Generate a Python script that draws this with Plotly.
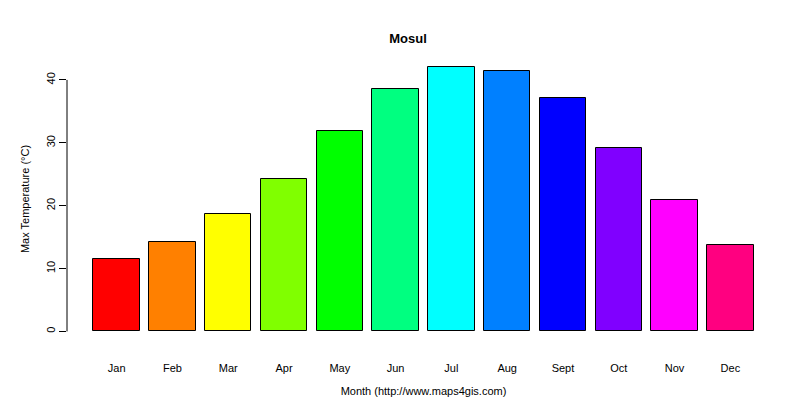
import plotly.graph_objects as go

months = ["Jan", "Feb", "Mar", "Apr", "May", "Jun", "Jul", "Aug", "Sept", "Oct", "Nov", "Dec"]
max_temp = [11.5, 14.2, 18.6, 24.2, 31.9, 38.6, 42.1, 41.4, 37.1, 29.2, 20.9, 13.7]
colors = ["#FF0000", "#FF8000", "#FFFF00", "#80FF00", "#00FF00", "#00FF80",
          "#00FFFF", "#0080FF", "#0000FF", "#8000FF", "#FF00FF", "#FF0080"]

# R barplot layout: width 1, space 0.2
xpos = [0.7 + 1.2 * i for i in range(len(months))]

fig = go.Figure(go.Bar(
    x=xpos, y=max_temp, width=1,
    marker=dict(color=colors, line=dict(color="black", width=1)),
))

fig.add_shape(type="line", xref="paper", yref="y", x0=0, x1=0, y0=0, y1=40,
              line=dict(color="black", width=1))

fig.update_layout(
    width=800, height=400,
    margin=dict(l=59, r=28, t=48, b=66),
    paper_bgcolor="white", plot_bgcolor="white",
    font=dict(family="Liberation Sans, Arial, sans-serif", size=12, color="black"),
    title=dict(text="<b>Mosul</b>", x=0.5, xanchor="center", yref="container",
               y=1 - 30 / 400, yanchor="middle", font=dict(size=13)),
    showlegend=False,
    bargap=0,
)
fig.update_xaxes(range=[-0.368, 14.968], tickvals=xpos, ticktext=months,
                 showgrid=False, zeroline=False, showline=False, ticks="",
                 ticklabelstandoff=18, automargin=False,
                 tickfont=dict(size=11),
                 title=dict(text="Month (http://www.maps4gis.com)", standoff=14,
                            font=dict(size=11)))
fig.update_yaxes(range=[-1.68, 43.8], tickvals=[0, 10, 20, 30, 40], tickangle=-90,
                 showgrid=False, zeroline=False, showline=False, automargin=False,
                 ticks="outside", ticklen=7, tickcolor="black",
                 tickfont=dict(size=11),
                 title=dict(text="Max Temperature (°C)", standoff=12,
                            font=dict(size=11)))

fig.write_html("out.html")
